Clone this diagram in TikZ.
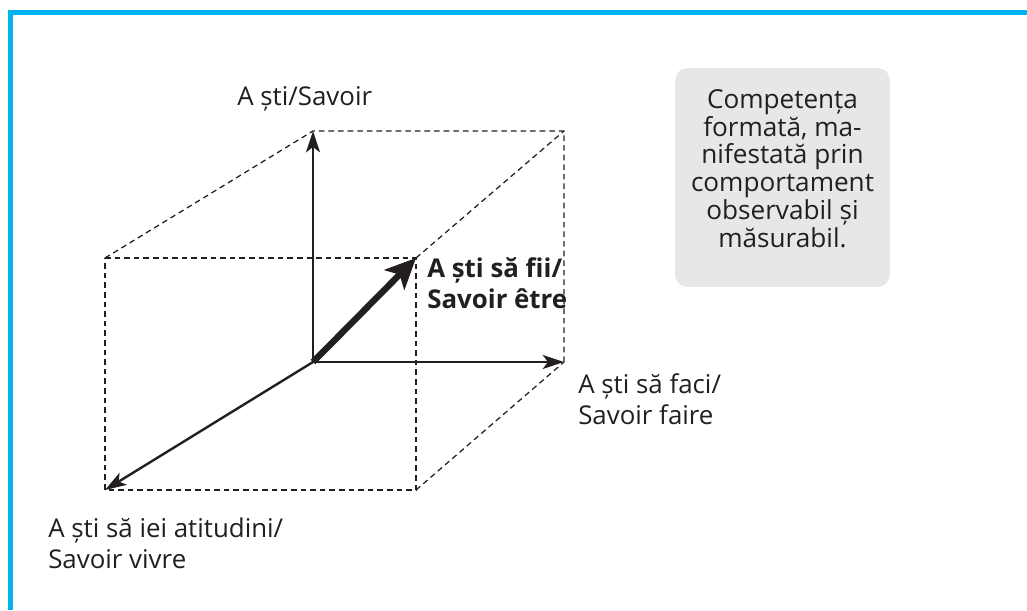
\documentclass[tikz,border=0pt]{standalone}
\usepackage{fontspec}
\setmainfont{Open Sans}
\usetikzlibrary{arrows.meta}
\definecolor{frameblue}{RGB}{0,180,240}
\definecolor{boxgray}{RGB}{230,231,232}
\definecolor{ink}{RGB}{35,31,32}
\tikzset{
  axis/.style={draw=ink, line width=1.8pt, -{Stealth[length=16pt, width=10.5pt, inset=4pt]}},
  boldaxis/.style={draw=ink, line width=4.8pt, -{Stealth[length=23pt, width=21pt, inset=5.5pt]}},
  edge/.style={draw=ink, line width=0.95pt, dash pattern=on 4.2pt off 3pt},
  lbl/.style={text=ink, anchor=base west, align=left, inner sep=0pt, font=\fontsize{19.4}{22.9}\selectfont},
  notebox/.style={fill=boxgray, rounded corners=9pt, inner sep=0pt,
    minimum width=161pt, minimum height=164pt},
  notetext/.style={text=ink, align=center, inner sep=0pt, anchor=base, font=\fontsize{19.6}{20.8}\selectfont}
}
\begin{document}
\begin{tikzpicture}[x=0.75pt, y=-0.75pt]
\useasboundingbox (0,0) rectangle (1027,610);
% frame
\fill[frameblue] (8,10) rectangle (1027,15);
\fill[frameblue] (8,10) rectangle (13,610);
% cube corners
\coordinate (O) at (313,362);
\coordinate (T) at (313,131);
\coordinate (R) at (564,362);
\coordinate (TR) at (564,131);
\coordinate (FL) at (105,490);
\coordinate (FTL) at (105,258);
\coordinate (D) at (416,258);
\coordinate (FBR) at (416,490);
% dashed edges
\draw[edge] (FTL) -- (T) -- (TR) -- (R);
\draw[edge] (D) -- (TR);
\draw[edge] (FBR) -- (R);
\draw[edge] (FTL) -- (D) -- (FBR) -- (FL) -- cycle;
% axes
\draw[axis] (O) -- (T);
\draw[axis] (O) -- (R);
\draw[axis] (O) -- (FL);
\draw[boldaxis] (O) -- (D);
% labels
\node[lbl] (savoir) at (237,105) {A ști/Savoir};
\node[lbl, font=\bfseries\fontsize{19.4}{23.2}\selectfont] (etre) at (427,308) {A ști să fii/\\Savoir être};
\node[lbl] (faire) at (578,424) {A ști să faci/\\Savoir faire};
\node[lbl] (vivre) at (48,568) {A ști să iei atitudini/\\Savoir vivre};
% note box
\node[notebox] (note) at (782.5,177.5) {};
\node[notetext] (notetxt) at (782.5,247) {Competența\\formată, ma-\\nifestată prin\\comportament\\observabil și\\măsurabil.};
\end{tikzpicture}
\end{document}
